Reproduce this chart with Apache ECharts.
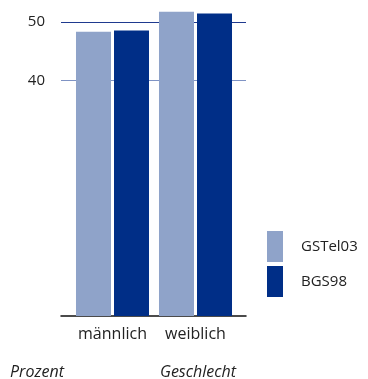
<!DOCTYPE html>
<html>
<head>
<meta charset="utf-8">
<script src="https://cdn.jsdelivr.net/npm/echarts@6/dist/echarts.min.js"></script>
<style>
	html, body { margin: 0; padding: 0; background: #fff; }
	#chart { width: 368px; height: 379px; }
</style>
</head>
<body>
<div id="chart"></div>
<script>
// Data
let categories = ['männlich', 'weiblich'];
let seriesNames = ['GSTel03', 'BGS98'];
let gstel03 = [48.3, 51.7];
let bgs98 = [48.5, 51.4];
let shownTicks = [40, 50];

let colors = ['#8fa3c9', '#002e87'];
let font = 'Open Sans';
let yMax = 52;

let chart = echarts.init(document.getElementById('chart'));

chart.setOption({
	animation: false,
	// grid 0: axis frame (grid lines, baseline, y labels); grid 1: the bars, a bit narrower
	grid: [
		{ left: 61, right: 122, top: 10, bottom: 63 },
		{ left: 71, right: 131, top: 10, bottom: 63 }
	],
	legend: {
		orient: 'vertical',
		left: 267,
		top: 231,
		padding: 0,
		itemWidth: 16,
		itemHeight: 31,
		itemGap: 4,
		icon: 'rect',
		data: seriesNames,
		textStyle: { fontFamily: font, fontSize: 15, color: '#222', padding: [0, 0, 0, 13] }
	},
	xAxis: [
		{
			gridIndex: 0,
			type: 'category',
			data: categories,
			axisLine: { lineStyle: { color: '#111', width: 1.5 } },
			axisTick: { show: false },
			axisLabel: { show: false }
		},
		{
			gridIndex: 1,
			type: 'category',
			data: categories,
			axisLine: { show: false },
			axisTick: { show: false },
			axisLabel: { interval: 0, hideOverlap: false, fontFamily: font, fontSize: 16, color: '#222', margin: 10 }
		}
	],
	yAxis: [
		{
			gridIndex: 0,
			type: 'value',
			min: 0,
			max: yMax,
			interval: 10,
			axisLine: { show: false },
			axisTick: { show: false },
			axisLabel: {
				fontFamily: font, fontSize: 15, color: '#222', margin: 16,
				formatter: function (v) { return shownTicks.indexOf(v) >= 0 ? String(v) : ''; }
			},
			splitLine: {
				show: true,
				lineStyle: {
					width: 1,
					color: ['rgba(0,0,0,0)', 'rgba(0,0,0,0)', 'rgba(0,0,0,0)', 'rgba(0,0,0,0)', '#7f93c4', '#1f3a8f']
				}
			}
		},
		{
			gridIndex: 1,
			type: 'value',
			min: 0,
			max: yMax,
			show: false
		}
	],
	graphic: [
		{ type: 'text', left: 10, top: 364, style: { text: 'Prozent', font: 'italic 16px "' + font + '"', fill: '#222' } },
		{ type: 'text', left: 160, top: 364, style: { text: 'Geschlecht', font: 'italic 16px "' + font + '"', fill: '#222' } }
	],
	series: [
		{ name: seriesNames[0], type: 'bar', xAxisIndex: 1, yAxisIndex: 1, data: gstel03, barWidth: 35, barGap: '8.6%', itemStyle: { color: colors[0] } },
		{ name: seriesNames[1], type: 'bar', xAxisIndex: 1, yAxisIndex: 1, data: bgs98, barWidth: 35, itemStyle: { color: colors[1] } }
	]
});
</script>
</body>
</html>
